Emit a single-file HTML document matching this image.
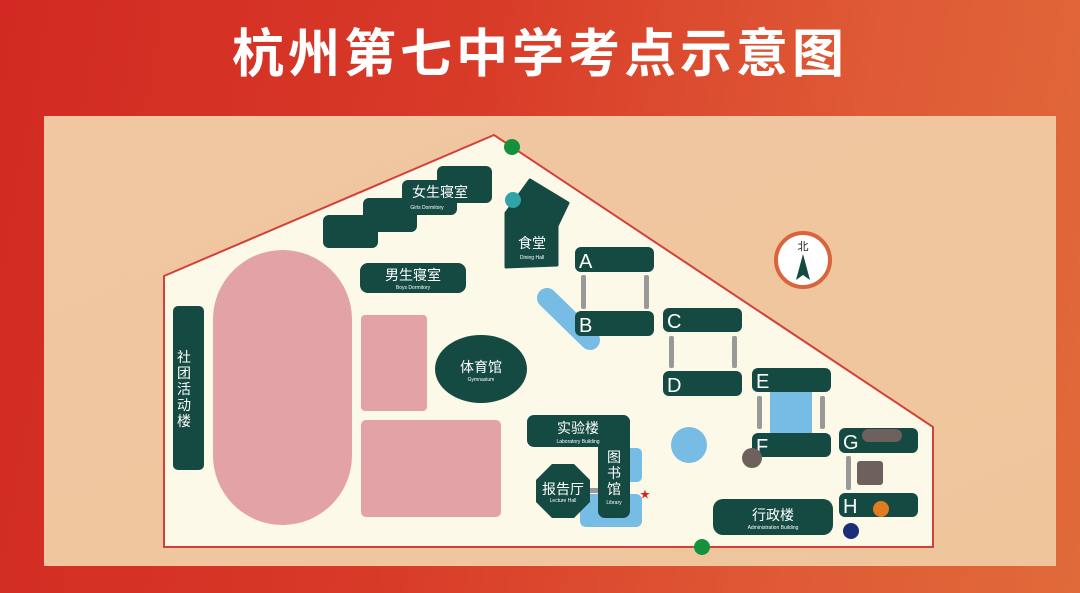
<!DOCTYPE html>
<html><head><meta charset="utf-8"><style>
html,body{margin:0;padding:0;width:1080px;height:593px;overflow:hidden;}
body{background:linear-gradient(100deg,#d22a22 0%,#d83a28 40%,#df5a35 75%,#e06a3a 100%);}
</style></head><body>
<svg width="1080" height="593" viewBox="0 0 1080 593" xmlns="http://www.w3.org/2000/svg" style="position:absolute;left:0;top:0">
<defs>
<linearGradient id="pn" x1="0" y1="0" x2="1" y2="1">
<stop offset="0" stop-color="#f1c7a2"/><stop offset="1" stop-color="#efc59c"/>
</linearGradient>
</defs>
<text x="540" y="72" text-anchor="middle" font-family="'Liberation Sans','Noto Sans CJK SC',sans-serif" font-size="52" font-weight="bold" fill="#fff" letter-spacing="4">杭州第七中学考点示意图</text>
<rect x="44" y="116" width="1012" height="450" fill="url(#pn)"/>
<polygon points="164,276 494,135 933,427 933,547 164,547" fill="#fdf9e8" stroke="#d2403a" stroke-width="2"/>
<g font-family="'Liberation Sans','Noto Sans CJK SC',sans-serif" fill="#fff" text-anchor="middle">
<rect x="213" y="250" width="139" height="275" rx="69.5" fill="#e3a3a6"/>
<rect x="361" y="315" width="66" height="96" rx="4" fill="#e3a3a6"/>
<rect x="361" y="420" width="140" height="97" rx="5" fill="#e3a3a6"/>
<g fill="#144a42">
<rect x="437" y="166" width="55" height="37" rx="6"/>
<rect x="402" y="180" width="55" height="35" rx="6"/>
<rect x="363" y="198" width="54" height="34" rx="6"/>
<rect x="323" y="215" width="55" height="33" rx="6"/>
<polygon points="506,213 530,180 568,203 557,226 557,265 506,267" stroke="#144a42" stroke-width="3" stroke-linejoin="round"/>
<rect x="360" y="263" width="106" height="30" rx="8"/>
<rect x="173" y="306" width="31" height="164" rx="5"/>
<ellipse cx="481" cy="369" rx="46" ry="34"/>
</g>
<text x="440" y="197" font-size="14">女生寝室</text>
<text x="427" y="209" font-size="5">Girls Dormitory</text>
<circle cx="513" cy="200" r="8" fill="#2fa3a5"/>
<text x="532" y="248" font-size="14">食堂</text>
<text x="532" y="259" font-size="5">Dining Hall</text>
<text x="413" y="280" font-size="14">男生寝室</text>
<text x="413" y="289" font-size="5">Boys Dormitory</text>
<text x="184" y="362" font-size="14">社</text>
<text x="184" y="378" font-size="14">团</text>
<text x="184" y="394" font-size="14">活</text>
<text x="184" y="410" font-size="14">动</text>
<text x="184" y="426" font-size="14">楼</text>
<text x="481" y="372" font-size="14">体育馆</text>
<text x="481" y="381" font-size="5">Gymnasium</text>
<line x1="547" y1="298" x2="590" y2="340" stroke="#77bce5" stroke-width="20" stroke-linecap="round"/>
<g fill="#999">
<rect x="581" y="275" width="5" height="34" rx="2"/>
<rect x="644" y="275" width="5" height="34" rx="2"/>
<rect x="669" y="336" width="5" height="32" rx="2"/>
<rect x="732" y="336" width="5" height="32" rx="2"/>
<rect x="757" y="396" width="5" height="33" rx="2"/>
<rect x="820" y="396" width="5" height="33" rx="2"/>
<rect x="846" y="456" width="5" height="34" rx="2"/>
<rect x="588" y="488" width="12" height="5"/>
</g>
<rect x="770" y="390" width="42" height="45" fill="#77bce5"/>
<circle cx="689" cy="445" r="18" fill="#77bce5"/>
<rect x="614" y="448" width="28" height="34" rx="5" fill="#77bce5"/>
<rect x="580" y="494" width="62" height="33" rx="6" fill="#77bce5"/>
<g fill="#144a42">
<rect x="575" y="247" width="79" height="25" rx="6"/>
<rect x="575" y="311" width="79" height="25" rx="6"/>
<rect x="663" y="308" width="79" height="24" rx="6"/>
<rect x="663" y="371" width="79" height="25" rx="6"/>
<rect x="752" y="368" width="79" height="24" rx="6"/>
<rect x="752" y="433" width="79" height="24" rx="6"/>
<rect x="839" y="428" width="79" height="25" rx="6"/>
<rect x="839" y="493" width="79" height="24" rx="6"/>
<rect x="713" y="499" width="120" height="36" rx="10"/>
<rect x="527" y="415" width="103" height="32" rx="7"/>
<rect x="598" y="415" width="32" height="103" rx="7"/>
<polygon points="552,464 574,464 590,480 590,502 574,518 552,518 536,502 536,480"/>
</g>
<g font-size="20" text-anchor="start">
<text x="579" y="268">A</text><text x="579" y="332">B</text>
<text x="667" y="328">C</text><text x="667" y="392">D</text>
<text x="756" y="388">E</text><text x="756" y="453">F</text>
<text x="843" y="449">G</text><text x="843" y="513">H</text>
</g>
<rect x="862" y="429" width="40" height="13" rx="6.5" fill="#6e605c"/>
<rect x="857" y="461" width="26" height="24" rx="3" fill="#6e605c"/>
<circle cx="881" cy="509" r="8" fill="#e07b20"/>
<circle cx="851" cy="531" r="8" fill="#1a2f78"/>
<circle cx="752" cy="458" r="10" fill="#6e605c"/>
<text x="773" y="520" font-size="14">行政楼</text>
<text x="773" y="529" font-size="5">Administration Building</text>
<text x="578" y="433" font-size="14">实验楼</text>
<text x="578" y="443" font-size="5">Laboratory Building</text>
<text x="614" y="462" font-size="14">图</text>
<text x="614" y="478" font-size="14">书</text>
<text x="614" y="494" font-size="14">馆</text>
<text x="614" y="504" font-size="5">Library</text>
<text x="563" y="494" font-size="14">报告厅</text>
<text x="563" y="502" font-size="5">Lecture Hall</text>
<text x="645" y="498" font-size="10" fill="#e02020">★</text>
<circle cx="512" cy="147" r="8" fill="#14913c"/>
<circle cx="702" cy="547" r="8" fill="#14913c"/>
<circle cx="803" cy="260" r="27" fill="#fff" stroke="#d9643e" stroke-width="4"/>
<text x="803" y="250" font-size="11" fill="#222">北</text>
<polygon points="803,254 796,280 803,275 810,280" fill="#144a42"/>
</g>
</svg>
</body></html>
